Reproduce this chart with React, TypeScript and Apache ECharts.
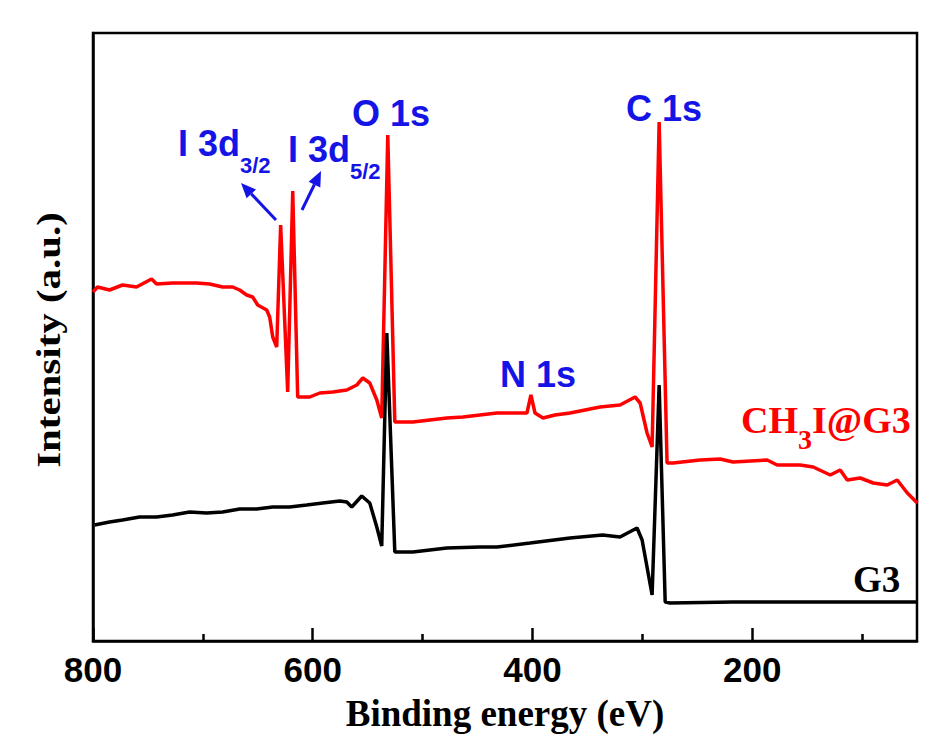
import React, { useEffect, useRef } from "react";
import * as echarts from "echarts";

// CH3I@G3 survey spectrum (binding energy eV, intensity a.u.)
const redEnergy = [800, 795.9, 785, 773.1, 760.4, 746.7, 742.1, 727.6, 705.7, 693.8, 682, 672.9, 666.5, 660.1, 654.7, 650.1, 641.9, 639.2, 636.4, 632.8, 629.2, 622.8, 618.2, 613.7, 611.8, 602.7, 593.6, 581.8, 569, 559.9, 554.4, 548.1, 541.7, 537.2, 531.7, 525.3, 508.9, 493.4, 477.9, 463.3, 447.8, 432.3, 405, 401.4, 397.7, 390.4, 379.5, 365.8, 338.5, 320.3, 306.6, 302, 295.7, 291.1, 284.7, 277.5, 272, 247.4, 229.2, 217.4, 186.4, 177.3, 156.3, 144.5, 129, 119.9, 113.5, 101.7, 89.8, 77.1, 68, 58.8, 49.7];
const redIntensity = [349, 354, 351, 356, 354, 362, 357, 358, 358, 357, 354, 354, 351, 346, 344, 336, 331, 324, 304, 294, 416, 249, 450, 244, 244, 244, 248, 249, 251, 256, 263, 258, 241, 223, 506, 219, 219, 221, 223, 224, 226, 228, 228, 246, 228, 223, 226, 228, 234, 236, 244, 238, 208, 194, 519, 178, 178, 181, 182, 179, 181, 176, 176, 174, 166, 171, 161, 163, 158, 156, 161, 148, 138];

// G3 survey spectrum
const blackEnergy = [798.6, 785, 773.1, 757.6, 742.1, 727.6, 712.1, 696.6, 682, 666.5, 651, 636.4, 621, 605.5, 590.9, 575.4, 569, 564.5, 555.4, 548.1, 541.7, 537.2, 532.6, 525.3, 508.9, 477.9, 447.8, 432.3, 402.2, 365.8, 336.2, 320.3, 304.8, 300.2, 291.1, 284.7, 279.2, 274.7, 217.4, 156.3, 49.7];
const blackIntensity = [116, 119, 121, 124, 124, 126, 129, 128, 129, 132, 132, 134, 134, 136, 138, 140, 139, 134, 145, 138, 114, 95, 308, 89, 89, 93, 94, 94, 98, 103, 106, 104, 113, 101, 46, 256, 39, 38, 39, 39, 39];

const majorTicks = [800, 600, 400, 200];
const minorTicks = [700, 500, 300, 100];

const BLUE = "#1414e6";
const RED = "#ff0000";

export default function App() {
  const ref = useRef<HTMLDivElement>(null);
  useEffect(() => {
    if (!ref.current) return;
    const chart = echarts.init(ref.current, undefined, { renderer: "svg" });
    const zip = (xs: number[], ys: number[]) => xs.map((x, i) => [x, ys[i]]);
    const blueMain = { fontFamily: "Liberation Sans", fontWeight: "bold", fontSize: 36, fill: BLUE };
    const rich = (color: string, family: string, size: number, subSize: number, pad: number) => ({
      m: { fontFamily: family, fontWeight: "bold", fontSize: size, fill: color, lineHeight: 40, verticalAlign: "top" },
      s: { fontFamily: family, fontWeight: "bold", fontSize: subSize, fill: color, lineHeight: 20, verticalAlign: "top", padding: [pad, 0, 0, 0] },
    });
    chart.setOption({
      animation: false,
      backgroundColor: "#ffffff",
      grid: { left: 93, right: 20, top: 33, bottom: 106, show: true, borderColor: "#000", borderWidth: 2.5 },
      xAxis: [
        {
          type: "value",
          inverse: true,
          min: 50,
          max: 800,
          name: "Binding energy (eV)",
          nameLocation: "middle",
          nameGap: 54,
          nameTextStyle: { fontFamily: "Liberation Serif", fontWeight: "bold", fontSize: 37, color: "#000", verticalAlign: "top" },
          axisLine: { show: true, lineStyle: { color: "#000", width: 2.5 } },
          axisTick: { show: true, inside: true, length: 13, customValues: majorTicks, lineStyle: { color: "#000", width: 2.5 } },
          axisLabel: { show: true, customValues: majorTicks, margin: 11, fontFamily: "Liberation Sans", fontWeight: "bold", fontSize: 35, color: "#000" },
          splitLine: { show: false },
        },
        {
          type: "value",
          inverse: true,
          min: 50,
          max: 800,
          position: "bottom",
          axisLine: { show: false },
          axisTick: { show: true, inside: true, length: 7, customValues: minorTicks, lineStyle: { color: "#000", width: 2.5 } },
          axisLabel: { show: false },
          splitLine: { show: false },
        },
      ],
      yAxis: {
        type: "value",
        min: 0,
        max: 608,
        axisLine: { show: true, lineStyle: { color: "#000", width: 2.5 } },
        axisTick: { show: false },
        axisLabel: { show: false },
        splitLine: { show: false },
      },
      series: [
        {
          name: "CH3I@G3",
          type: "line",
          data: zip(redEnergy, redIntensity),
          showSymbol: false,
          lineStyle: { color: RED, width: 3.5 },
          z: 2,
        },
        {
          name: "G3",
          type: "line",
          data: zip(blackEnergy, blackIntensity),
          showSymbol: false,
          lineStyle: { color: "#000", width: 3.5 },
          z: 3,
        },
      ],
      graphic: [
        {
          type: "text",
          x: 49,
          y: 340,
          rotation: Math.PI / 2,
          scaleX: 1.24,
          style: { text: "Intensity (a.u.)", fontFamily: "Liberation Serif", fontWeight: "bold", fontSize: 33, fill: "#000", align: "center", verticalAlign: "middle" },
        },
        { type: "text", x: 352, y: 95, style: { ...blueMain, text: "O 1s" } },
        { type: "text", x: 626, y: 90, style: { ...blueMain, text: "C 1s" } },
        { type: "text", x: 500, y: 356, style: { ...blueMain, text: "N 1s" } },
        { type: "text", x: 178, y: 125, style: { text: "{m|I 3d}{s|3/2}", rich: rich(BLUE, "Liberation Sans", 36, 22, 29) } },
        { type: "text", x: 288, y: 131, style: { text: "{m|I 3d}{s|5/2}", rich: rich(BLUE, "Liberation Sans", 36, 22, 29) } },
        { type: "text", x: 741, y: 401, style: { text: "{m|CH}{s|3}{m|I@G3}", rich: rich(RED, "Liberation Serif", 38, 28, 24) } },
        { type: "text", x: 853, y: 561, style: { fontFamily: "Liberation Serif", fontWeight: "bold", fontSize: 37, fill: "#000", text: "G3" } },
        { type: "line", shape: { x1: 276, y1: 220, x2: 251.3, y2: 193.9 }, style: { stroke: BLUE, lineWidth: 3 } },
        { type: "polygon", shape: { points: [[241, 183], [256.0, 189.4], [246.6, 198.3]] }, style: { fill: BLUE } },
        { type: "line", shape: { x1: 302, y1: 210, x2: 314.4, y2: 184.5 }, style: { stroke: BLUE, lineWidth: 3 } },
        { type: "polygon", shape: { points: [[321, 171], [320.3, 187.4], [308.6, 181.7]] }, style: { fill: BLUE } },
      ],
    });
    return () => chart.dispose();
  }, []);
  return <div ref={ref} style={{ position: "fixed", left: 0, top: 0, width: 937, height: 747 }} />;
}
